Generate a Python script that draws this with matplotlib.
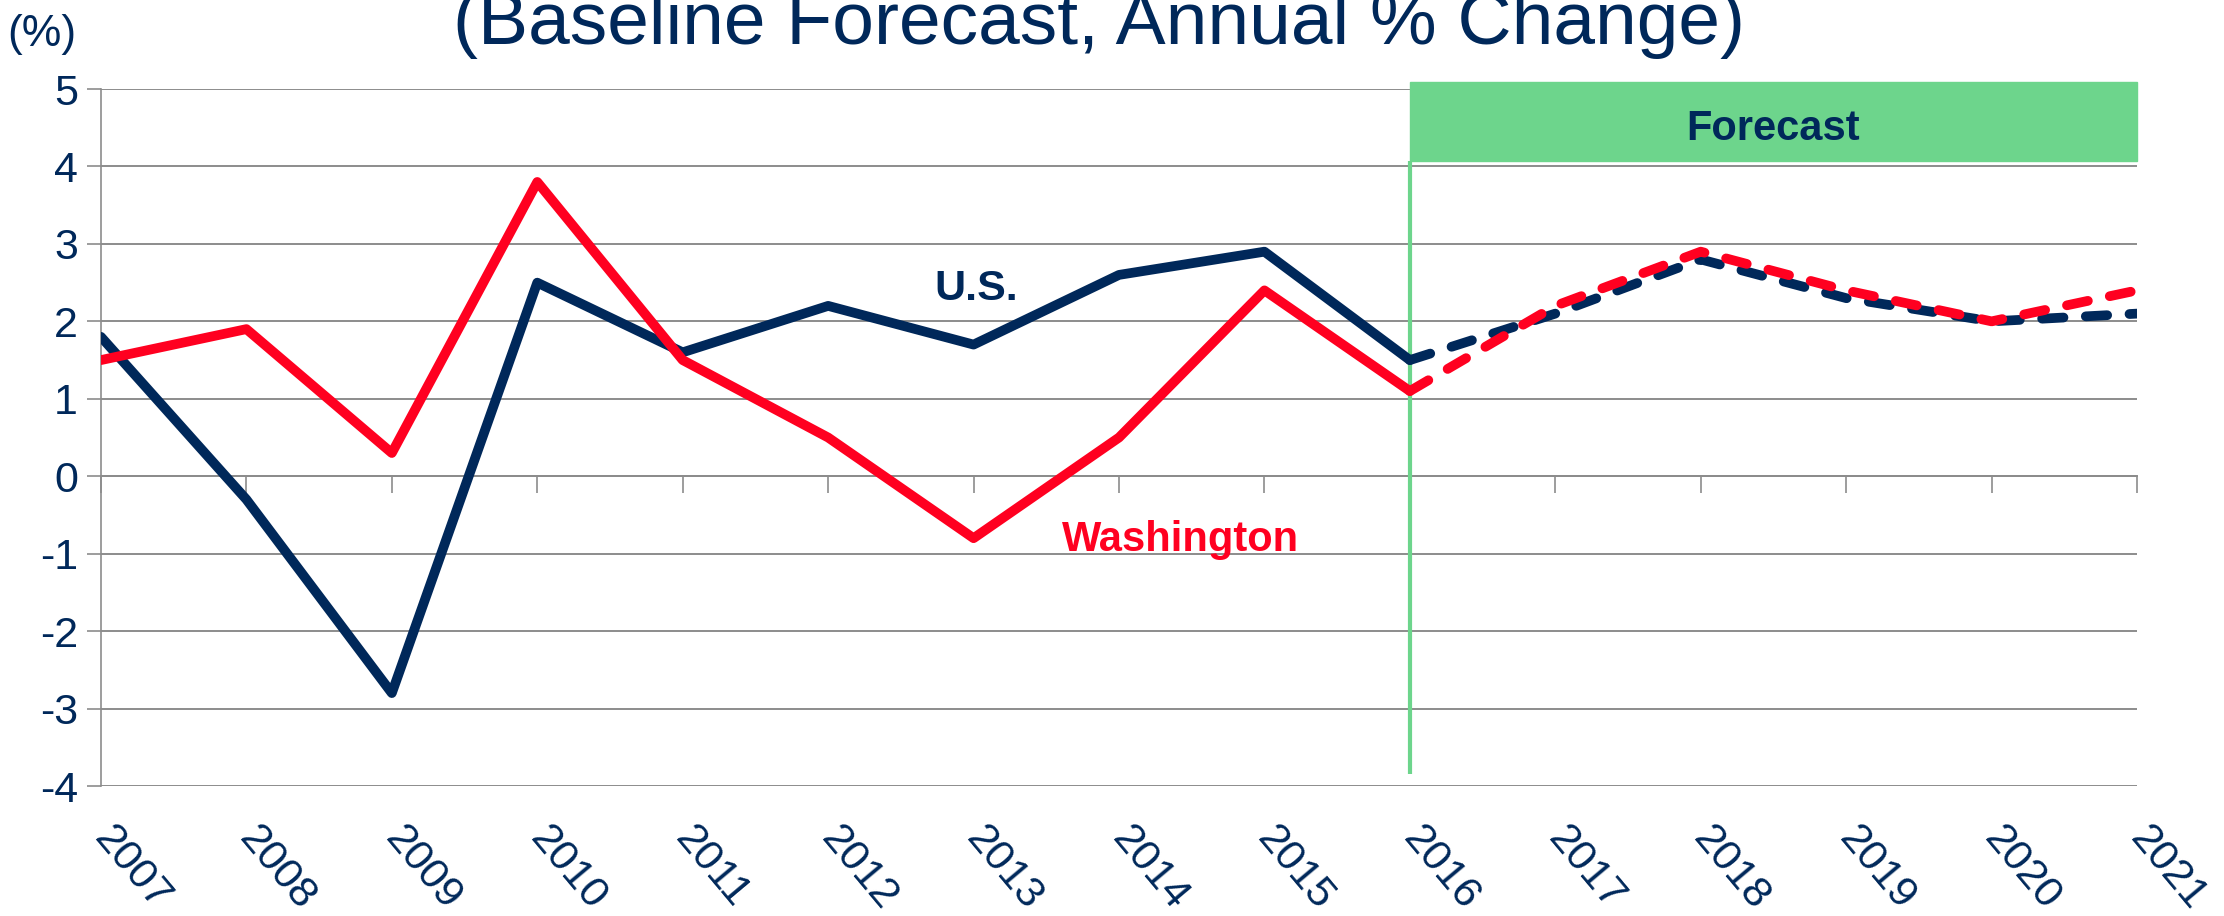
import matplotlib.pyplot as plt
from matplotlib.patches import Rectangle

years = list(range(2007, 2022))
hist_years = years[:10]
fcst_years = years[9:]

us_hist = [1.8, -0.3, -2.8, 2.5, 1.6, 2.2, 1.7, 2.6, 2.9, 1.5]
us_fcst = [1.5, 2.1, 2.8, 2.3, 2.0, 2.1]
wa_hist = [1.5, 1.9, 0.3, 3.8, 1.5, 0.5, -0.8, 0.5, 2.4, 1.1]
wa_fcst = [1.1, 2.2, 2.9, 2.4, 2.0, 2.4]

navy = '#00285a'
red = '#ff0020'
green = '#6dd58c'
grey = '#8c8c8c'

plt.rcParams['font.family'] = ['Liberation Sans', 'DejaVu Sans']
plt.rcParams['axes.unicode_minus'] = False

fig = plt.figure(figsize=(22.24, 9.16), dpi=100)
ax = fig.add_axes([0.0454, 0.1419, 0.9155, 0.7609])

# history solid, forecast dashed
lw = 7
ax.plot(hist_years, us_hist, color=navy, lw=lw, solid_capstyle='round', solid_joinstyle='round', zorder=4)
ax.plot(fcst_years, us_fcst, color=navy, lw=lw, dashes=(2.2, 2.3), dash_capstyle='round', zorder=4)
ax.plot(hist_years, wa_hist, color=red, lw=lw, solid_capstyle='round', solid_joinstyle='round', zorder=5)
ax.plot(fcst_years, wa_fcst, color=red, lw=lw, dashes=(2.2, 2.3), dash_capstyle='round', zorder=5)

ax.set_xlim(2007, 2021)
ax.set_ylim(-4, 5)
ax.set_yticks(range(-4, 6))

for s in ['top', 'right', 'bottom']:
    ax.spines[s].set_visible(False)
ax.spines['left'].set_color(grey)
ax.spines['left'].set_linewidth(1.2)
ax.grid(axis='y', color=grey, lw=1.4)
ax.set_axisbelow(True)

ax.tick_params(axis='y', length=10, width=1.2, color=grey, labelsize=31, labelcolor=navy, pad=6.5)
ax.set_xticks(years)
ax.set_xticklabels(years, rotation=-50, ha='left', va='center', rotation_mode='anchor')
ax.tick_params(axis='x', length=0, labelsize=31, labelcolor=navy, pad=33)

# category axis crossing at zero
sec = ax.secondary_xaxis(0, transform=ax.transData)
sec.set_xticks(years)
sec.tick_params(length=12, width=1.2, color=grey, labelbottom=False)
sec.spines['bottom'].set_color(grey)
sec.spines['bottom'].set_linewidth(1.4)

# forecast band
ax.add_patch(Rectangle((2016, 4.07), 5, 1.02, color=green, clip_on=False, zorder=3))
ax.vlines(2016, -3.85, 4.07, color=green, lw=3, zorder=3)
narrow = ['Liberation Sans Narrow', 'Liberation Sans']
ax.text(2018.5, 4.34, 'Forecast', ha='center', va='baseline', fontsize=30,
        fontweight='bold', color=navy, family=narrow, zorder=6)

ax.text(2013.02, 2.27, 'U.S.', ha='center', va='baseline', fontsize=31,
        fontweight='bold', color=navy, family=narrow)
ax.text(2014.42, -0.97, 'Washington', ha='center', va='baseline', fontsize=30,
        fontweight='bold', color=red, family=narrow)

fig.text(0.494, 0.952, '(Baseline Forecast, Annual % Change)', ha='center', va='baseline',
         fontsize=54, color=navy)
fig.text(0.019, 0.962, '(%)', ha='center', va='center', fontsize=32, color=navy)

fig.savefig('out.png', dpi=100)
